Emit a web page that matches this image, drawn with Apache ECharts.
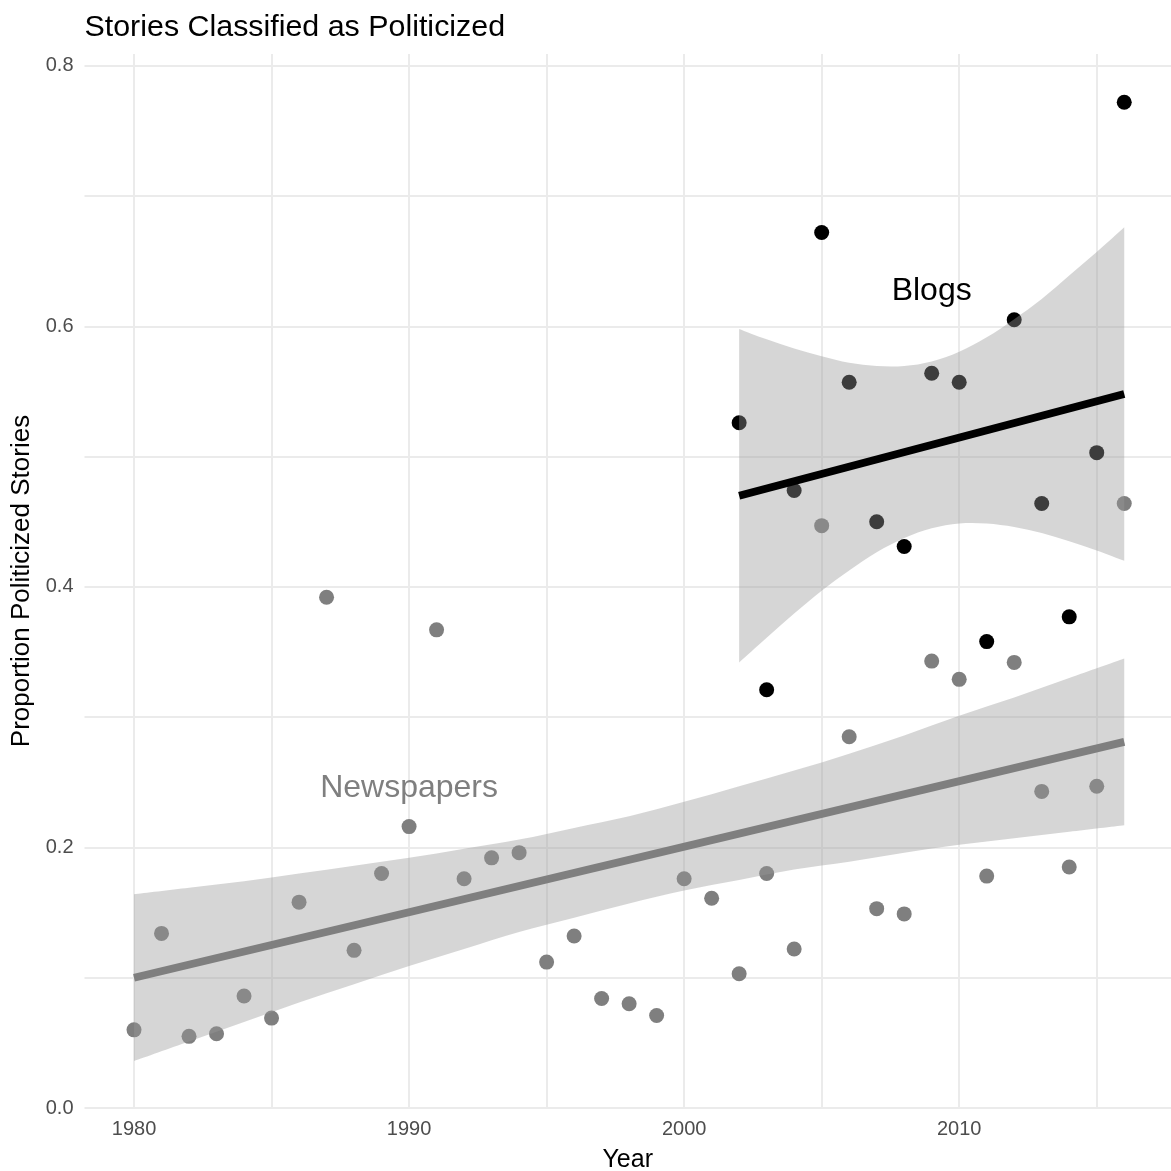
<!DOCTYPE html>
<html>
<head>
<meta charset="utf-8">
<script src="https://cdn.jsdelivr.net/npm/echarts@6/dist/echarts.min.js"></script>
<style>
  html, body { margin: 0; padding: 0; background: #ffffff; }
  #chart { width: 1171px; height: 1171px; }
</style>
</head>
<body>
<div id="chart"></div>
<script>
// Yearly share of stories classified as politicized
const newsYears = [1980, 1981, 1982, 1983, 1984, 1985, 1986, 1987, 1988, 1989,
                   1990, 1991, 1992, 1993, 1994, 1995, 1996, 1997, 1998, 1999,
                   2000, 2001, 2002, 2003, 2004, 2005, 2006, 2007, 2008, 2009,
                   2010, 2011, 2012, 2013, 2014, 2015, 2016];
const newsValues = [0.060, 0.134, 0.055, 0.057, 0.086, 0.069, 0.158, 0.392, 0.121, 0.180,
                    0.216, 0.367, 0.176, 0.192, 0.196, 0.112, 0.132, 0.084, 0.080, 0.071,
                    0.176, 0.161, 0.103, 0.180, 0.122, 0.447, 0.285, 0.153, 0.149, 0.343,
                    0.329, 0.178, 0.342, 0.243, 0.185, 0.247, 0.464];

const blogYears = [2002, 2003, 2004, 2005, 2006, 2007, 2008, 2009, 2010, 2011, 2012, 2013, 2014, 2015, 2016];
const blogValues = [0.526, 0.321, 0.474, 0.672, 0.557, 0.450, 0.431, 0.564, 0.557, 0.358,
                    0.605, 0.464, 0.377, 0.503, 0.772];

// Linear trend endpoints
const newsFitYears = [1980, 2016];
const newsFitValues = [0.100, 0.281];
const blogFitYears = [2002, 2016];
const blogFitValues = [0.470, 0.548];

// Confidence bands around the trends
const newsBandYears = [1980, 1982, 1984, 1986, 1988, 1990, 1992, 1994, 1996, 1998,
                       2000, 2002, 2004, 2006, 2008, 2010, 2012, 2014, 2016];
const newsBandUpper = [0.164, 0.169, 0.174, 0.180, 0.186, 0.192, 0.199, 0.206, 0.215, 0.224,
                       0.235, 0.247, 0.259, 0.272, 0.286, 0.301, 0.315, 0.330, 0.345];
const newsBandLower = [0.036, 0.051, 0.066, 0.081, 0.095, 0.109, 0.122, 0.135, 0.146, 0.157,
                       0.167, 0.175, 0.183, 0.189, 0.196, 0.202, 0.207, 0.212, 0.217];

const blogBandYears = [2002, 2003, 2004, 2005, 2006, 2007, 2008, 2009, 2010, 2011, 2012, 2013, 2014, 2015, 2016];
const blogBandUpper = [0.598, 0.590, 0.583, 0.577, 0.572, 0.5695, 0.5695, 0.573, 0.5805, 0.5915,
                       0.6055, 0.621, 0.639, 0.657, 0.676];
const blogBandLower = [0.342, 0.361, 0.3795, 0.397, 0.4125, 0.4265, 0.4375, 0.445, 0.4487, 0.4487,
                       0.446, 0.4413, 0.435, 0.428, 0.420];

// Tick positions
const xLabelTicks = [1980, 1990, 2000, 2010];
const xGridLines = [1980, 1985, 1990, 1995, 2000, 2005, 2010, 2015];
const yLabelTicks = [0, 0.2, 0.4, 0.6, 0.8];
const yGridLines = [0, 0.1, 0.2, 0.3, 0.4, 0.5, 0.6, 0.7, 0.8];

// In-plot group labels
const groupLabels = ['Blogs', 'Newspapers'];
const groupLabelYears = [2009, 1990];
const groupLabelValues = [0.627, 0.2455];

const NEWS_COLOR = '#7f7f7f';
const BLOG_COLOR = '#000000';
const BAND_FILL = 'rgba(153,153,153,0.4)';
const FONT = '"Liberation Sans", Arial, Helvetica, sans-serif';

const pairs = (xs, ys) => xs.map((x, i) => [x, ys[i]]);

// Smooth path through pixel points (Catmull-Rom segments as cubic Béziers)
function curveThrough(pts, startCmd) {
  let d = startCmd + pts[0][0] + ' ' + pts[0][1];
  for (let i = 0; i < pts.length - 1; i++) {
    const p0 = pts[Math.max(i - 1, 0)], p1 = pts[i], p2 = pts[i + 1], p3 = pts[Math.min(i + 2, pts.length - 1)];
    const c1 = [p1[0] + (p2[0] - p0[0]) / 6, p1[1] + (p2[1] - p0[1]) / 6];
    const c2 = [p2[0] - (p3[0] - p1[0]) / 6, p2[1] - (p3[1] - p1[1]) / 6];
    d += ' C' + c1[0] + ' ' + c1[1] + ' ' + c2[0] + ' ' + c2[1] + ' ' + p2[0] + ' ' + p2[1];
  }
  return d;
}

// Band drawn as one closed shape: upper edge left-to-right, lower edge back
function bandSeries(id, xs, lower, upper, z) {
  return {
    type: 'custom', id: id, z: z, silent: true,
    coordinateSystem: 'cartesian2d',
    data: [[xs[0], lower[0]]],
    renderItem: function (params, api) {
      const top = xs.map((x, i) => api.coord([x, upper[i]]));
      const bottom = xs.map((x, i) => api.coord([x, lower[i]])).reverse();
      const pathData = curveThrough(top, 'M') + ' ' + curveThrough(bottom, 'L') + ' Z';
      return {
        type: 'path',
        shape: { pathData: pathData },
        style: { fill: BAND_FILL, stroke: 'none' }
      };
    }
  };
}

const chart = echarts.init(document.getElementById('chart'), null, { renderer: 'canvas' });

chart.setOption({
  animation: false,
  backgroundColor: '#ffffff',
  title: {
    text: 'Stories Classified as Politicized',
    left: 84.5, top: 12.5, padding: 0,
    textStyle: { fontFamily: FONT, fontSize: 30.4, fontWeight: 'normal', color: '#000000' }
  },
  grid: { left: 84.5, top: 54, width: 1086.5, height: 1054, containLabel: false, outerBoundsMode: 'none' },
  xAxis: {
    type: 'value', min: 1978.2, max: 2017.7,
    name: 'Year', nameLocation: 'middle', nameGap: 40,
    nameTextStyle: { fontFamily: FONT, fontSize: 25, color: '#000000' },
    axisLine: { show: false }, axisTick: { show: false }, splitLine: { show: false },
    axisLabel: {
      customValues: xLabelTicks,
      margin: 11, fontFamily: FONT, fontSize: 20, color: '#4d4d4d',
      formatter: v => (xLabelTicks.indexOf(v) >= 0 ? String(v) : '')
    }
  },
  yAxis: {
    type: 'value', min: 0, max: 0.809,
    name: 'Proportion Politicized Stories', nameLocation: 'middle', nameGap: 47,
    nameTextStyle: { fontFamily: FONT, fontSize: 26, color: '#000000' },
    axisLine: { show: false }, axisTick: { show: false }, splitLine: { show: false },
    axisLabel: {
      customValues: yLabelTicks,
      margin: 11, fontFamily: FONT, fontSize: 20, color: '#4d4d4d',
      formatter: v => (yLabelTicks.some(t => Math.abs(t - v) < 1e-9) ? v.toFixed(1) : '')
    }
  },
  series: [
    // panel grid
    {
      type: 'line', id: 'grid-lines', data: [], silent: true, z: 0,
      markLine: {
        z: 0, silent: true, symbol: ['none', 'none'], label: { show: false },
        lineStyle: { color: '#ebebeb', width: 2, type: 'solid' },
        emphasis: { disabled: true },
        data: xGridLines.map(v => ({ xAxis: v })).concat(yGridLines.map(v => ({ yAxis: v })))
      }
    },
    // observations
    {
      type: 'scatter', id: 'news-points', z: 2, symbolSize: 15, silent: true,
      itemStyle: { color: NEWS_COLOR, opacity: 1 },
      data: pairs(newsYears, newsValues)
    },
    {
      type: 'scatter', id: 'blog-points', z: 2, symbolSize: 15, silent: true,
      itemStyle: { color: BLOG_COLOR, opacity: 1 },
      data: pairs(blogYears, blogValues)
    },
    // confidence bands over the points
    bandSeries('news-band', newsBandYears, newsBandLower, newsBandUpper, 3),
    bandSeries('blog-band', blogBandYears, blogBandLower, blogBandUpper, 3),
    // trend lines
    {
      type: 'line', id: 'news-fit', z: 4, symbol: 'none', silent: true,
      lineStyle: { color: NEWS_COLOR, width: 7.8, cap: 'butt', opacity: 1 },
      data: pairs(newsFitYears, newsFitValues)
    },
    {
      type: 'line', id: 'blog-fit', z: 4, symbol: 'none', silent: true,
      lineStyle: { color: BLOG_COLOR, width: 7.8, cap: 'butt', opacity: 1 },
      data: pairs(blogFitYears, blogFitValues)
    },
    // group labels
    {
      type: 'scatter', id: 'group-labels', z: 5, symbolSize: 1, silent: true,
      itemStyle: { color: 'rgba(0,0,0,0)', opacity: 1 },
      label: { show: true, position: 'inside', fontFamily: FONT, fontSize: 32, formatter: p => p.name },
      data: groupLabels.map((name, i) => ({
        name: name,
        value: [groupLabelYears[i], groupLabelValues[i]],
        label: { color: i === 0 ? BLOG_COLOR : NEWS_COLOR }
      }))
    }
  ]
});
</script>
</body>
</html>
